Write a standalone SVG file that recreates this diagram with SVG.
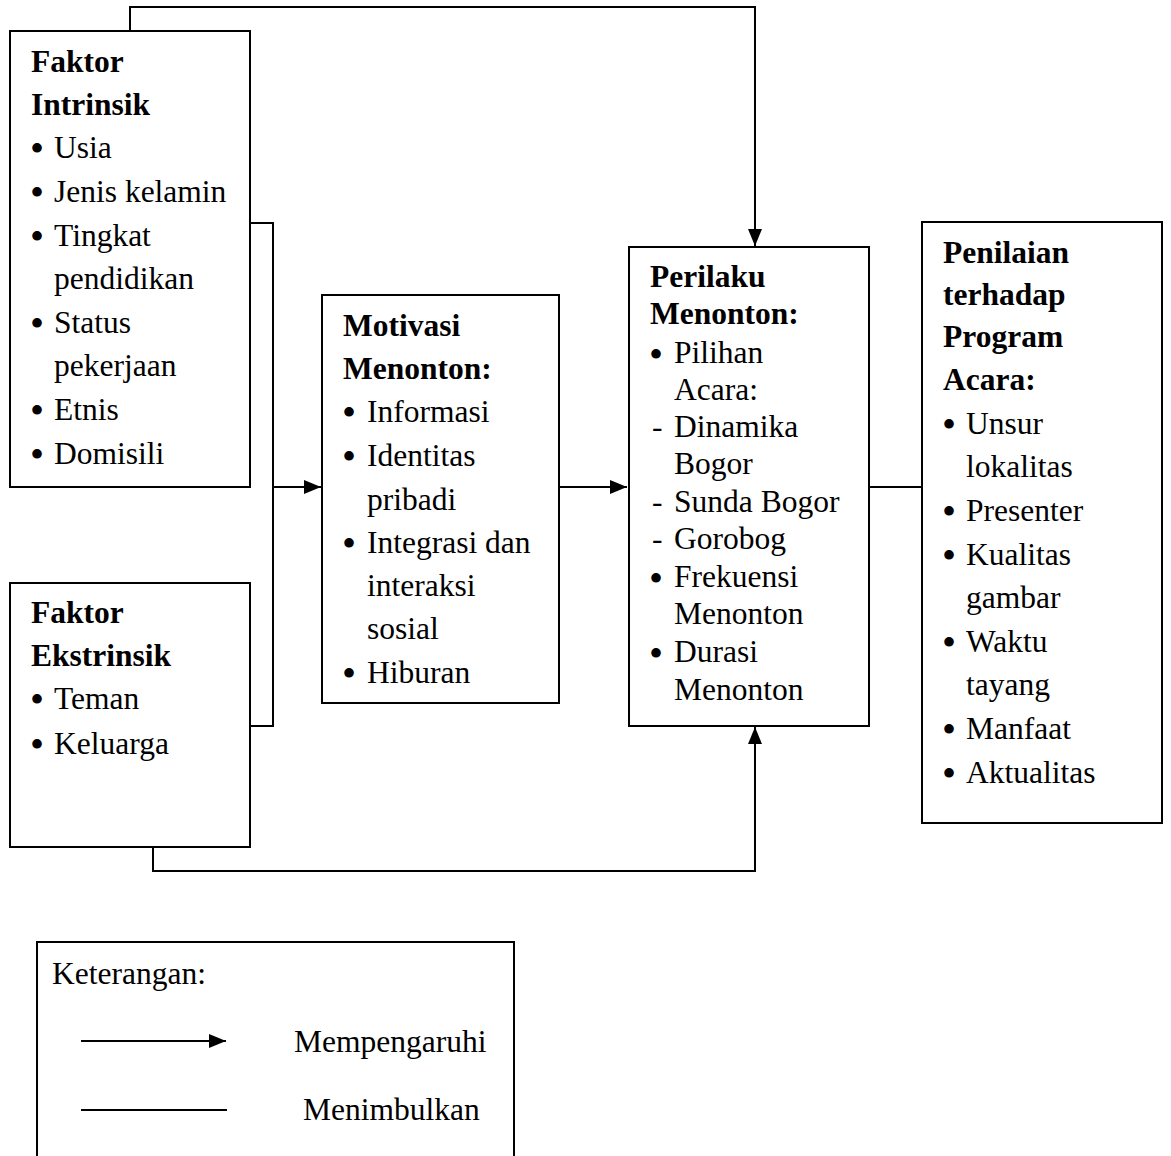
<svg xmlns="http://www.w3.org/2000/svg" width="1171" height="1156" viewBox="0 0 1171 1156">
<style>
.box{fill:#fff;stroke:#000;stroke-width:2}
.ln{fill:none;stroke:#000;stroke-width:2}
text{font-family:"Liberation Serif","Times New Roman",serif;font-size:31.5px;fill:#000}
.b{font-weight:bold}
.bu{font-size:40px}
</style>
<defs>
<marker id="ah" markerUnits="userSpaceOnUse" markerWidth="17" markerHeight="14" refX="17" refY="7" orient="auto">
<path d="M0,0 L17,7 L0,14 z" fill="#000"/>
</marker>
</defs>
<g id="connectors">
<path class="ln" d="M130,31 V7 H755 V246" marker-end="url(#ah)"/>
<path class="ln" d="M153,847 V871 H755 V727" marker-end="url(#ah)"/>
<path class="ln" d="M250,223 H273 V726 H250"/>
<path class="ln" d="M273,487 H321" marker-end="url(#ah)"/>
<path class="ln" d="M559,487 H627" marker-end="url(#ah)"/>
<path class="ln" d="M869,487 H922"/>
</g>
<g id="intrinsik">
<rect class="box" x="10" y="31" width="240" height="456"/>
<text class="b" x="31" y="72">Faktor</text>
<text class="b" x="31" y="115">Intrinsik</text>
<text class="bu" x="30" y="162">•</text><text x="54" y="158">Usia</text>
<text class="bu" x="30" y="206">•</text><text x="54" y="202">Jenis kelamin</text>
<text class="bu" x="30" y="250">•</text><text x="54" y="246">Tingkat</text>
<text x="54" y="289">pendidikan</text>
<text class="bu" x="30" y="337">•</text><text x="54" y="333">Status</text>
<text x="54" y="376">pekerjaan</text>
<text class="bu" x="30" y="424">•</text><text x="54" y="420">Etnis</text>
<text class="bu" x="30" y="468">•</text><text x="54" y="464">Domisili</text>
</g>
<g id="ekstrinsik">
<rect class="box" x="10" y="583" width="240" height="264"/>
<text class="b" x="31" y="623">Faktor</text>
<text class="b" x="31" y="666">Ekstrinsik</text>
<text class="bu" x="30" y="713">•</text><text x="54" y="709">Teman</text>
<text class="bu" x="30" y="758">•</text><text x="54" y="754">Keluarga</text>
</g>
<g id="motivasi">
<rect class="box" x="322" y="295" width="237" height="408"/>
<text class="b" x="343" y="336">Motivasi</text>
<text class="b" x="343" y="379">Menonton:</text>
<text class="bu" x="342" y="426">•</text><text x="367" y="422">Informasi</text>
<text class="bu" x="342" y="470">•</text><text x="367" y="466">Identitas</text>
<text x="367" y="510">pribadi</text>
<text class="bu" x="342" y="557">•</text><text x="367" y="553">Integrasi dan</text>
<text x="367" y="596">interaksi</text>
<text x="367" y="639">sosial</text>
<text class="bu" x="342" y="687">•</text><text x="367" y="683">Hiburan</text>
</g>
<g id="perilaku">
<rect class="box" x="629" y="247" width="240" height="479"/>
<text class="b" x="650" y="287">Perilaku</text>
<text class="b" x="650" y="324">Menonton:</text>
<text class="bu" x="649" y="367.5">•</text><text x="674" y="363">Pilihan</text>
<text x="674" y="400">Acara:</text>
<text x="652" y="437">-</text><text x="674" y="437">Dinamika</text>
<text x="674" y="474">Bogor</text>
<text x="652" y="512">-</text><text x="674" y="512">Sunda Bogor</text>
<text x="652" y="549">-</text><text x="674" y="549">Gorobog</text>
<text class="bu" x="649" y="591.5">•</text><text x="674" y="587">Frekuensi</text>
<text x="674" y="624">Menonton</text>
<text class="bu" x="649" y="666.5">•</text><text x="674" y="662">Durasi</text>
<text x="674" y="700">Menonton</text>
</g>
<g id="penilaian">
<rect class="box" x="922" y="222" width="240" height="601"/>
<text class="b" x="943" y="263">Penilaian</text>
<text class="b" x="943" y="305">terhadap</text>
<text class="b" x="943" y="347">Program</text>
<text class="b" x="943" y="390">Acara:</text>
<text class="bu" x="942" y="438">•</text><text x="966" y="434">Unsur</text>
<text x="966" y="477">lokalitas</text>
<text class="bu" x="942" y="525">•</text><text x="966" y="521">Presenter</text>
<text class="bu" x="942" y="569">•</text><text x="966" y="565">Kualitas</text>
<text x="966" y="608">gambar</text>
<text class="bu" x="942" y="656">•</text><text x="966" y="652">Waktu</text>
<text x="966" y="695">tayang</text>
<text class="bu" x="942" y="743">•</text><text x="966" y="739">Manfaat</text>
<text class="bu" x="942" y="787">•</text><text x="966" y="783">Aktualitas</text>
</g>
<g id="legend">
<path class="ln" d="M37,1160 V942 H514 V1160"/>
<text x="52" y="984">Keterangan:</text>
<path class="ln" d="M81,1041 H226" marker-end="url(#ah)"/>
<text x="294" y="1052">Mempengaruhi</text>
<path class="ln" d="M81,1110 H227"/>
<text x="303" y="1120">Menimbulkan</text>
</g>
</svg>
